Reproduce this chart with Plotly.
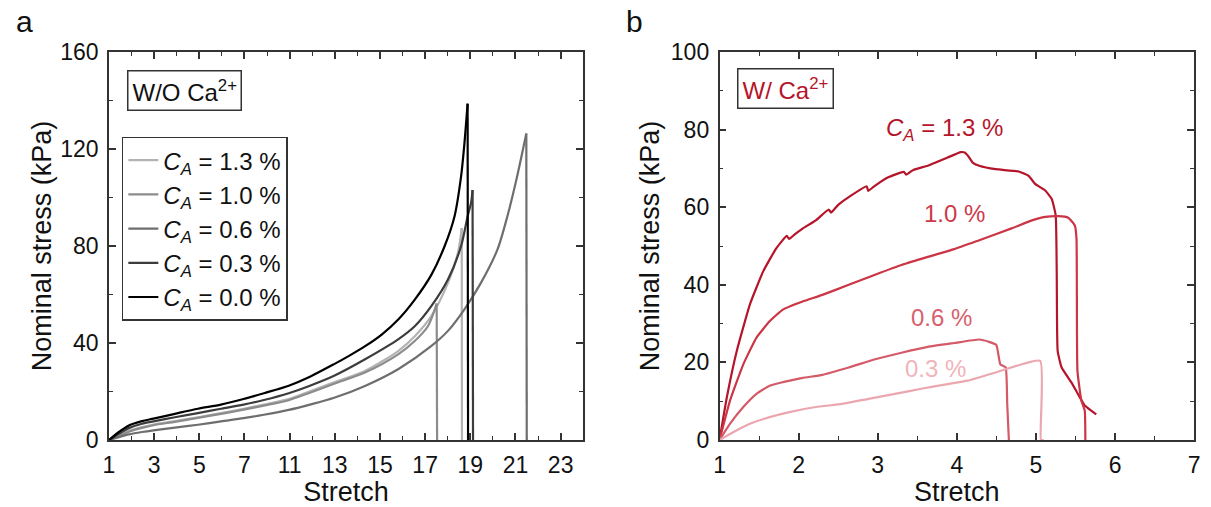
import plotly.graph_objects as go

# ---- panel a : W/O Ca2+ (stretch given in axis position units, labels below) ----
a_tickvals = [1, 3, 5, 7, 9, 11, 13, 15, 17, 19, 21]
a_ticktext = ['1', '3', '5', '7', '11', '13', '15', '17', '19', '21', '23']

a_names = ['<i>C<sub>A</sub></i> = 1.3 %', '<i>C<sub>A</sub></i> = 1.0 %',
           '<i>C<sub>A</sub></i> = 0.6 %', '<i>C<sub>A</sub></i> = 0.3 %',
           '<i>C<sub>A</sub></i> = 0.0 %']
a_colors = ['#b3b3b3', '#8c8c8c', '#6e6e6e', '#3c3c3c', '#000000']

a13_x = [1, 1.44, 1.88, 2.46, 2.97, 3.92, 4.94, 5.96, 6.96, 7.86, 8.96, 9.90, 10.97,
         12.36, 13.82, 14.55, 15.28, 16.01, 16.45, 16.62, 16.63]
a13_y = [0, 1.9, 3.7, 5.3, 6.4, 7.8, 9.4, 11.1, 12.9, 14.6, 16.9, 20.1, 23.8,
         28.6, 36.8, 42.9, 51.2, 64.8, 77.1, 87.4, 0]

a10_x = [1, 1.44, 1.88, 2.46, 2.97, 3.92, 4.94, 5.96, 6.96, 7.86, 8.96, 9.90, 10.97,
         12.36, 13.82, 14.55, 15.13, 15.51, 15.53]
a10_y = [0, 1.7, 3.4, 5.0, 6.1, 7.5, 9.1, 10.8, 12.5, 14.2, 16.4, 19.5, 23.2,
         27.9, 35.4, 40.9, 47.0, 56.3, 0]

a06_x = [1, 1.44, 1.88, 2.46, 2.97, 3.92, 4.94, 5.96, 6.96, 7.86, 8.96, 9.90, 10.97,
         12.36, 13.82, 15.28, 16.01, 16.74, 17.47, 18.20, 18.64, 19.07, 19.48, 19.50]
a06_y = [0, 1.2, 2.3, 3.3, 4.0, 5.1, 6.3, 7.7, 9.0, 10.4, 12.4, 14.6, 17.4,
         22.4, 29.3, 38.8, 45.0, 53.9, 64.8, 78.5, 92.2, 108.6, 126.4, 0]

a03_x = [1, 1.44, 1.88, 2.46, 2.97, 3.92, 4.94, 5.96, 6.96, 7.86, 8.96, 9.90, 10.97,
         12.36, 13.82, 14.55, 15.28, 16.01, 16.59, 16.88, 17.03, 17.10, 17.12]
a03_y = [0, 2.6, 4.9, 6.7, 7.7, 9.4, 11.1, 12.9, 14.6, 16.5, 19.3, 22.4, 26.5,
         33.4, 41.6, 47.0, 55.3, 66.2, 79.9, 92.2, 97.6, 103.1, 0]

a00_x = [1, 1.44, 1.88, 2.46, 2.97, 3.92, 4.94, 5.96, 6.96, 7.86, 8.96, 9.90, 10.97,
         11.63, 12.36, 13.09, 13.82, 14.55, 15.28, 15.86, 16.30, 16.59, 16.74, 16.88, 16.90]
a00_y = [0, 3.3, 6.0, 7.8, 8.8, 10.8, 12.9, 14.6, 16.9, 19.3, 22.4, 26.1, 31.3,
         34.7, 38.8, 43.6, 49.8, 58.0, 68.2, 79.9, 92.2, 108.6, 122.3, 138.7, 0]

# ---- panel b : W/ Ca2+ ----
b_colors = ['#b5152b', '#cc3545', '#d45a68', '#eba7af']
b_labels = ['<i>C<sub>A</sub></i> = 1.3 %', '1.0 %', '0.6 %', '0.3 %']
b_label_x = [3.84, 3.97, 3.81, 3.73]
b_label_y = [80.0, 58.3, 31.5, 18.4]
b_label_colors = ['#b5152b', '#cc3a4a', '#d8606e', '#f0b4bb']

b13_x = [1.0, 1.092, 1.217, 1.383, 1.55, 1.717, 1.85, 1.88, 1.95, 2.05, 2.217, 2.38, 2.41,
         2.5, 2.633, 2.86, 2.88, 2.95, 3.133, 3.33, 3.36, 3.45, 3.633, 3.883, 4.05, 4.1,
         4.15, 4.2, 4.283, 4.49, 4.783, 4.908, 4.99, 5.117, 5.2, 5.25, 5.263, 5.275, 5.325,
         5.45, 5.533, 5.617, 5.763]
b13_y = [0, 11.0, 22.9, 34.9, 43.4, 49.4, 52.6, 51.8, 53.0, 54.5, 56.6, 59.4, 58.6,
         60.6, 62.6, 65.4, 64.2, 65.3, 67.7, 69.1, 68.4, 69.6, 70.7, 72.8, 74.2, 74.1,
         73.0, 71.5, 70.7, 69.8, 69.2, 68.1, 66.0, 64.3, 62.1, 57.9, 43.4, 22.9, 18.7,
         14.8, 11.8, 8.9, 6.6]

b10_x = [1.0, 1.133, 1.3, 1.467, 1.633, 1.8, 2.05, 2.3, 2.633, 2.967, 3.3, 3.633, 3.967,
         4.283, 4.7, 4.95, 5.117, 5.283, 5.408, 5.492, 5.513, 5.525, 5.575, 5.617, 5.625]
b10_y = [0, 10.2, 19.5, 26.4, 30.6, 33.6, 35.7, 37.4, 40.0, 42.6, 45.1, 47.2, 49.2,
         51.5, 54.6, 56.6, 57.5, 57.7, 57.3, 55.3, 51.9, 17.8, 10.1, 7.6, 0]

b06_x = [1.0, 1.133, 1.3, 1.467, 1.633, 1.8, 2.05, 2.3, 2.633, 2.967, 3.3, 3.633, 3.967,
         4.283, 4.408, 4.5, 4.55, 4.617, 4.637, 4.658]
b06_y = [0, 4.2, 8.5, 11.9, 14.0, 14.9, 16.0, 16.8, 18.7, 20.8, 22.5, 24.0, 25.0,
         25.9, 25.3, 24.5, 19.5, 18.7, 9.3, 0]

b03_x = [1.0, 1.217, 1.383, 1.633, 1.883, 2.217, 2.55, 2.883, 3.217, 3.55, 3.883, 4.138,
         4.492, 5.054, 5.063, 5.1]
b03_y = [0, 2.5, 4.2, 5.9, 7.2, 8.5, 9.3, 10.6, 11.9, 13.2, 14.4, 15.3, 17.4, 20.4, 0, 0]

fig = go.Figure()

# rising part drawn smooth, the rupture drop drawn as a straight segment
a_series = [(a13_x, a13_y), (a10_x, a10_y), (a06_x, a06_y), (a03_x, a03_y), (a00_x, a00_y)]
for (xs, ys), name, color in zip(a_series, a_names, a_colors):
    fig.add_trace(go.Scatter(x=xs[:-1], y=ys[:-1], mode='lines', name=name,
                             legendgroup=name,
                             line=dict(color=color, width=2.2, shape='spline', smoothing=0.8),
                             xaxis='x', yaxis='y'))
    fig.add_trace(go.Scatter(x=xs[-2:], y=ys[-2:], mode='lines', legendgroup=name,
                             showlegend=False, line=dict(color=color, width=2.2),
                             xaxis='x', yaxis='y'))

b_series = [(b13_x, b13_y), (b10_x, b10_y), (b06_x, b06_y), (b03_x, b03_y)]
for (xs, ys), color in zip(b_series, b_colors):
    fig.add_trace(go.Scatter(x=xs, y=ys, mode='lines', showlegend=False,
                             line=dict(color=color, width=2.2, shape='spline', smoothing=0.4),
                             xaxis='x2', yaxis='y2'))

font = 'Arial, Liberation Sans, sans-serif'
frame = dict(showline=True, linecolor='#333333', linewidth=1.5, mirror='ticks',
             ticks='inside', ticklen=7, tickwidth=1.5, tickcolor='#333333',
             showgrid=False, zeroline=False,
             tickfont=dict(size=23, color='#111111'),
             ticklabelstandoff=4,
             minor=dict(ticks='inside', ticklen=4, tickwidth=1.3, tickcolor='#333333'))

fig.update_layout(
    width=1211, height=507,
    paper_bgcolor='white', plot_bgcolor='white',
    margin=dict(l=0, r=0, t=52, b=64),
    font=dict(family=font, color='#111111'),
    xaxis=dict(frame, domain=[104 / 1211, 583 / 1211], range=[1, 22],
               tickmode='array', tickvals=a_tickvals, ticktext=a_ticktext,
               minor=dict(frame['minor'], tick0=0, dtick=1),
               title=dict(text='Stretch', font=dict(size=27), standoff=10)),
    yaxis=dict(frame, range=[0, 160], dtick=40,
               minor=dict(frame['minor'], dtick=20),
               title=dict(text='Nominal stress (kPa)', font=dict(size=27), standoff=1)),
    xaxis2=dict(frame, domain=[720.7 / 1211, 1200 / 1211], range=[1, 7], dtick=1,
                minor=dict(frame['minor'], dtick=0.5), anchor='y2',
                title=dict(text='Stretch', font=dict(size=27), standoff=10)),
    yaxis2=dict(frame, range=[0, 100], dtick=20, anchor='x2',
                minor=dict(frame['minor'], dtick=10),
                title=dict(text='Nominal stress (kPa)', font=dict(size=27), standoff=3)),
    legend=dict(x=117 / 1211, y=0.782, xanchor='left', yanchor='top',
                bordercolor='#333333', borderwidth=1.5, bgcolor='white',
                entrywidth=135, entrywidthmode='pixels',
                font=dict(size=24, color='#111111'), tracegroupgap=0),
)

fig.add_annotation(text='a', x=8 / 1211, y=1, xref='paper', yref='paper',
                   xanchor='left', yanchor='bottom', yshift=12, showarrow=False,
                   font=dict(size=30, color='#111111'))
fig.add_annotation(text='b', x=624 / 1211, y=1, xref='paper', yref='paper',
                   xanchor='left', yanchor='bottom', yshift=12, showarrow=False,
                   font=dict(size=30, color='#111111'))

fig.add_annotation(text='W/O Ca<sup>2+</sup>', x=0.037, y=0.954,
                   xref='x domain', yref='y domain', xanchor='left', yanchor='top',
                   showarrow=False, bordercolor='#333333', borderwidth=1.5, borderpad=4,
                   bgcolor='white', font=dict(size=24, color='#111111'))
fig.add_annotation(text='W/ Ca<sup>2+</sup>', x=0.036, y=0.96,
                   xref='x2 domain', yref='y2 domain', xanchor='left', yanchor='top',
                   showarrow=False, bordercolor='#333333', borderwidth=1.5, borderpad=4,
                   bgcolor='white', font=dict(size=24, color='#b5152b'))

for text, lx, ly, color in zip(b_labels, b_label_x, b_label_y, b_label_colors):
    fig.add_annotation(text=text, x=lx, y=ly, xref='x2', yref='y2', showarrow=False,
                       font=dict(size=24, color=color))

fig.write_html("out.html", config={'displayModeBar': False},
               post_script="document.body.style.margin='0';"
                           "document.body.style.overflow='hidden';")
